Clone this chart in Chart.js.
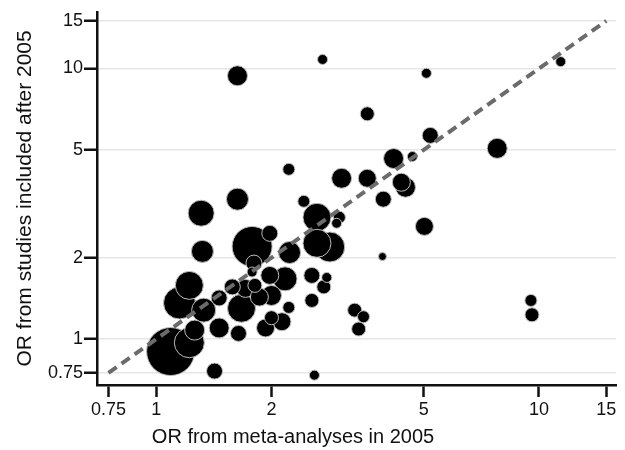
<!DOCTYPE html>
<html>
<head>
<meta charset="utf-8">
<script src="https://cdn.jsdelivr.net/npm/chart.js@4/dist/chart.umd.min.js"></script>
<style>
    body { margin: 0; background: #fff; }
    #wrap { width: 625px; height: 450px; position: relative; }
</style>
</head>
<body>
<div id="wrap"><canvas id="orChart"></canvas></div>
<script>
// OR from meta-analyses in 2005 (x), OR from later studies (y), study weight (bubble size)
const orMeta = [1.63, 2.72, 5.08, 11.4, 3.56, 5.2, 7.78, 4.67, 4.17, 2.22,
    3.05, 3.56, 4.37, 4.48, 3.92, 1.63, 2.43, 1.31, 2.63, 3.01,
    2.96, 5.02, 1.98, 1.78, 2.63, 2.84, 2.23, 1.32, 1.8, 3.9,
    1.98, 2.17, 2.55, 2.79, 2.74, 2.0, 2.22, 2.55, 2.13, 1.93,
    2.0, 1.64, 1.67, 1.81, 1.78, 1.71, 1.58, 1.46, 1.33, 1.22,
    1.15, 1.46, 1.26, 1.22, 1.09, 1.42, 2.59, 3.3, 3.48, 3.38,
    9.53, 9.59, 1.86];
const orAfter = [9.4, 10.8, 9.6, 10.6, 6.8, 5.66, 5.07, 4.73, 4.65, 4.24,
    3.93, 3.93, 3.8, 3.64, 3.29, 3.29, 3.23, 2.92, 2.82, 2.82,
    2.68, 2.61, 2.46, 2.2, 2.26, 2.19, 2.09, 2.11, 1.91, 2.02,
    1.72, 1.67, 1.72, 1.69, 1.56, 1.45, 1.31, 1.39, 1.16, 1.1,
    1.2, 1.05, 1.3, 1.58, 1.77, 1.54, 1.56, 1.42, 1.28, 1.58,
    1.36, 1.1, 1.08, 0.97, 0.9, 0.762, 0.736, 1.28, 1.21, 1.09,
    1.39, 1.23, 1.43];
const studyWeight = [10, 5, 5, 5, 7, 8, 10, 5, 10, 6,
    10, 9, 9, 10, 8, 11, 6, 13, 14, 6,
    5, 9, 8, 20, 14, 15, 11, 11, 8, 4,
    9, 12, 8, 5, 7, 10, 6, 7, 9, 9,
    7, 8, 14, 7, 5, 9, 8, 8, 12, 14,
    16, 10, 10, 15, 24, 8, 5, 7, 6, 7,
    6, 7, 9];

const xTicks = [0.75, 1, 2, 5, 10, 15];
const yTicks = [0.75, 1, 2, 5, 10, 15];
const identityLine = [0.75, 15];

document.addEventListener('DOMContentLoaded', function() {
    const ctx = document.getElementById('orChart');

    // big bubbles first so the small ones stay visible on top
    const order = orMeta.map((v, i) => i).sort((a, b) => studyWeight[b] - studyWeight[a]);
    const bubbles = order.map(i => ({ x: orMeta[i], y: orAfter[i], r: studyWeight[i] }));

    // x axis title is drawn off-centre in the original
    const xTitle = {
        id: 'xTitle',
        afterDraw(chart) {
            const c = chart.ctx;
            c.save();
            c.fillStyle = '#111';
            c.font = '20px "Liberation Sans", Arial, sans-serif';
            c.textAlign = 'center';
            c.textBaseline = 'middle';
            c.fillText('OR from meta-analyses in 2005', 293, 437);
            c.restore();
        }
    };

    new Chart(ctx, {
        data: {
            datasets: [
                {
                    type: 'line',
                    data: identityLine.map(v => ({ x: v, y: v })),
                    borderColor: '#6b6b6b',
                    borderWidth: 4,
                    borderDash: [10, 6],
                    pointRadius: 0,
                    fill: false,
                    order: 0
                },
                {
                    type: 'bubble',
                    data: bubbles,
                    backgroundColor: '#000',
                    borderColor: '#bdbdbd',
                    borderWidth: 1,
                    clip: false,
                    order: 1
                }
            ]
        },
        plugins: [xTitle],
        options: {
            responsive: true,
            maintainAspectRatio: false,
            animation: false,
            events: [],
            layout: { autoPadding: false, padding: { left: 0, right: 9, top: 10, bottom: 0 } },
            plugins: {
                legend: { display: false },
                tooltip: { enabled: false }
            },
            scales: {
                x: {
                    type: 'logarithmic',
                    min: 0.707,
                    max: 15.9,
                    afterBuildTicks: s => { s.ticks = xTicks.map(v => ({ value: v })); },
                    afterFit: s => { s.height = 65; },
                    ticks: {
                        autoSkip: false,
                        maxRotation: 0,
                        color: '#111',
                        padding: 2,
                        font: { family: '"Liberation Sans", Arial, sans-serif', size: 18 },
                        callback: v => String(v)
                    },
                    grid: {
                        drawOnChartArea: false,
                        drawTicks: true,
                        tickLength: 12,
                        tickColor: '#111',
                        tickWidth: 2.5
                    },
                    border: { display: true, color: '#111', width: 2.5 }
                },
                y: {
                    type: 'logarithmic',
                    min: 0.677,
                    max: 16.2,
                    afterBuildTicks: s => { s.ticks = yTicks.map(v => ({ value: v })); },
                    afterFit: s => { s.width = 97; },
                    ticks: {
                        autoSkip: false,
                        color: '#111',
                        padding: 1,
                        font: { family: '"Liberation Sans", Arial, sans-serif', size: 18 },
                        callback: v => String(v)
                    },
                    grid: {
                        color: '#e6e6e6',
                        lineWidth: 1.5,
                        drawTicks: true,
                        tickLength: 13,
                        tickColor: '#111',
                        tickWidth: 2.5
                    },
                    border: { display: true, color: '#111', width: 2.5 },
                    title: {
                        display: true,
                        text: 'OR from studies included after 2005',
                        color: '#111',
                        font: { family: '"Liberation Sans", Arial, sans-serif', size: 21 },
                        padding: { top: 13, bottom: 0 }
                    }
                }
            }
        }
    });
});
</script>
</body>
</html>
